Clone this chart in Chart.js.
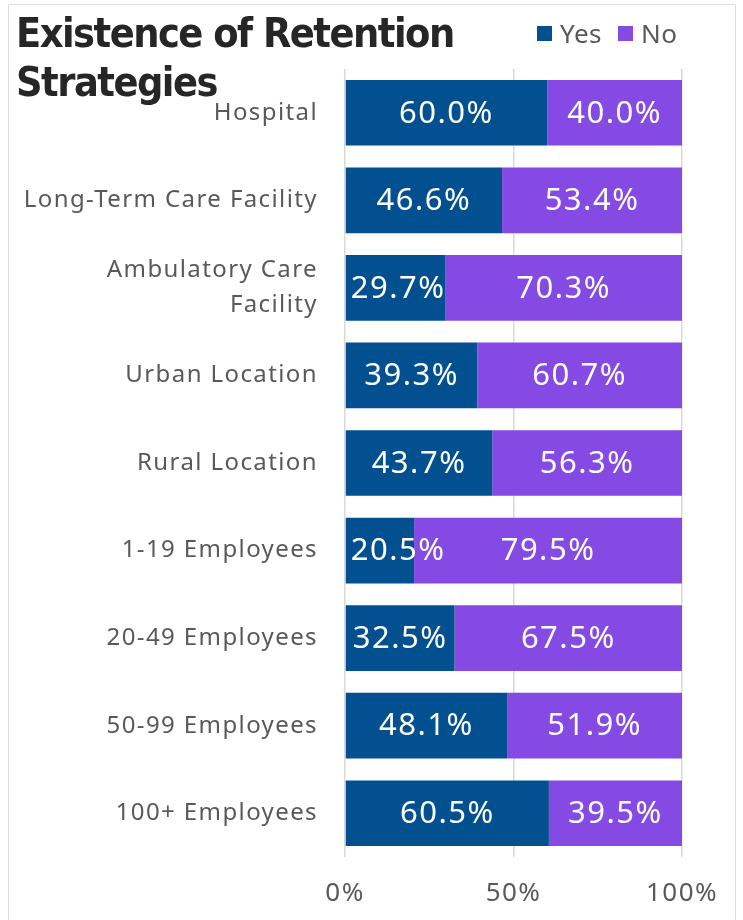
<!DOCTYPE html>
<html>
<head>
<meta charset="utf-8">
<script src="https://cdn.jsdelivr.net/npm/chart.js@4/dist/chart.umd.min.js"></script>
<style>
  html, body { margin: 0; padding: 0; background: #fff; }
  #wrap { position: relative; width: 743px; height: 920px; overflow: hidden; }
  #frame { position: absolute; left: 8px; top: 4px; width: 728px; height: 940px;
           border: 1.5px solid #dedede; box-sizing: border-box; }
  #title { position: absolute; left: 16px; top: 9px; font-family: "DejaVu Sans Condensed", "DejaVu Sans", sans-serif;
           font-weight: bold; font-size: 41px; line-height: 49px; color: #262626; letter-spacing: -1.5px; }
  #legend { position: absolute; left: 537px; top: 15px; font-family: "Noto Sans", sans-serif;
            font-size: 26px; color: #595959; display: flex; align-items: center; letter-spacing: 0.5px; }
  #legend .item { display: flex; align-items: center; margin-right: 16px; }
  #legend .sw { width: 15px; height: 15px; margin-right: 8px; }
  canvas { position: absolute; left: 0; top: 0; }
</style>
</head>
<body>
<div id="wrap">
  <div id="frame"></div>
  <canvas id="chart" width="743" height="920"></canvas>
  <div id="title">Existence of Retention<br>Strategies</div>
  <div id="legend"></div>
</div>
<script>
// Facility types and employer sizes, top to bottom
const categories = [
  "Hospital",
  "Long-Term Care Facility",
  ["Ambulatory Care", "Facility"],
  "Urban Location",
  "Rural Location",
  "1-19 Employees",
  "20-49 Employees",
  "50-99 Employees",
  "100+ Employees"
];
// Share of respondents (%) reporting retention strategies
const yesValues = [60.0, 46.6, 29.7, 39.3, 43.7, 20.5, 32.5, 48.1, 60.5];
const noValues  = [40.0, 53.4, 70.3, 60.7, 56.3, 79.5, 67.5, 51.9, 39.5];
const seriesNames = ["Yes", "No"];
const seriesColors = ["#02508f", "#8549e4"];
const axisTicks = [0, 50, 100];

const LABEL_FONT = '"Noto Sans", sans-serif';

// Slightly open letter spacing for all canvas text
const spacing = {
  id: 'spacing',
  beforeDraw(chart) { chart.ctx.letterSpacing = '1.4px'; }
};

// Writes each segment's value in the middle of its bar, kept inside the plot
const valueLabels = {
  id: 'valueLabels',
  afterDatasetsDraw(chart) {
    const ctx = chart.ctx;
    ctx.save();
    ctx.letterSpacing = '1.5px';
    ctx.font = '31px ' + LABEL_FONT;
    ctx.fillStyle = '#ffffff';
    ctx.textAlign = 'center';
    ctx.textBaseline = 'middle';
    chart.data.datasets.forEach((ds, di) => {
      const meta = chart.getDatasetMeta(di);
      meta.data.forEach((bar, i) => {
        const text = ds.data[i].toFixed(1) + '%';
        const w = ctx.measureText(text).width;
        const left = Math.min(bar.x, bar.base);
        const right = Math.max(bar.x, bar.base);
        let x = (left + right) / 2;
        if (x - w / 2 < left + 5 && di === 0) x = left + 5 + w / 2;
        ctx.fillText(text, x, bar.y + 1);
      });
    });
    ctx.restore();
  }
};

const chart = new Chart(document.getElementById('chart'), {
  type: 'bar',
  data: {
    labels: categories,
    datasets: [
      { label: seriesNames[0], data: yesValues, backgroundColor: seriesColors[0] },
      { label: seriesNames[1], data: noValues, backgroundColor: seriesColors[1] }
    ]
  },
  options: {
    indexAxis: 'y',
    responsive: false,
    animation: false,
    devicePixelRatio: 1,
    categoryPercentage: 0.75,
    barPercentage: 1.0,
    layout: { padding: { top: 69, right: 61, bottom: 0, left: 0 } },
    plugins: { legend: { display: false }, title: { display: false }, tooltip: { enabled: false } },
    scales: {
      x: {
        stacked: true,
        min: 0,
        max: 100,
        afterBuildTicks(scale) { scale.ticks = axisTicks.map(v => ({ value: v })); },
        afterFit(scale) { scale.height = 63; },
        grid: { color: '#d9d9d9', lineWidth: 1.5, drawTicks: false },
        border: { display: false },
        ticks: {
          padding: 21,
          color: '#595959',
          font: { family: LABEL_FONT, size: 26 },
          callback: v => v + '%'
        }
      },
      y: {
        stacked: true,
        afterFit(scale) { scale.width = 345; },
        grid: { display: false },
        border: { display: false },
        ticks: {
          padding: 19,
          color: '#595959',
          font: { family: LABEL_FONT, size: 24, lineHeight: 1.45 }
        }
      }
    }
  },
  plugins: [spacing, valueLabels]
});

// Legend built from the chart's own datasets
const legend = document.getElementById('legend');
chart.data.datasets.forEach(ds => {
  const item = document.createElement('div');
  item.className = 'item';
  const sw = document.createElement('span');
  sw.className = 'sw';
  sw.style.background = ds.backgroundColor;
  const txt = document.createElement('span');
  txt.textContent = ds.label;
  item.appendChild(sw);
  item.appendChild(txt);
  legend.appendChild(item);
});
</script>
</body>
</html>
